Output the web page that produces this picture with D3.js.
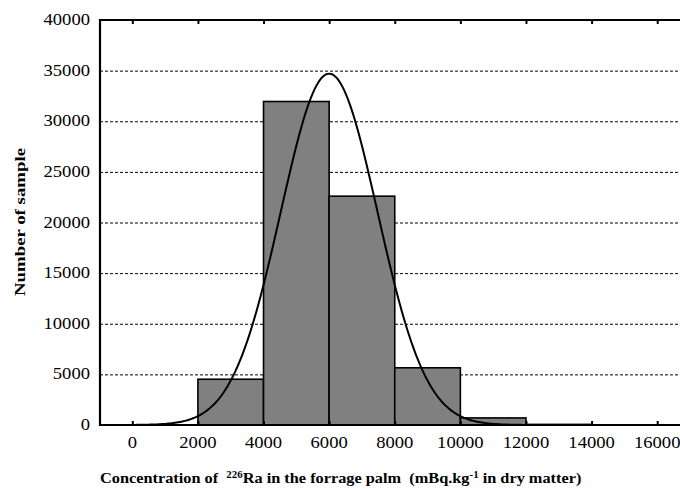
<!DOCTYPE html>
<html><head><meta charset="utf-8">
<script src="https://cdn.jsdelivr.net/npm/d3@7/dist/d3.min.js"></script>
<style>
html,body{margin:0;padding:0;background:#fff;}
svg{display:block;}
text{font-family:"Liberation Serif","Times New Roman",serif;fill:#000;}
</style></head>
<body>
<svg id="chart" width="680" height="489"></svg>
<script>
// Histogram bins (lower edge, upper edge) and counts
const binStarts = [2000, 4000, 6000, 8000, 10000, 12000, 14000];
const binEnds   = [4000, 6000, 8000, 10000, 12000, 14000, 16000];
const counts    = [4520, 31950, 22600, 5650, 700, 60, 10];
// Expected normal fit (parameters)
const fitMean = [6000];
const fitSd = [1475];
const fitPeak = [34700];
// Axis ticks
const xTicks = [0, 2000, 4000, 6000, 8000, 10000, 12000, 14000, 16000];
const yTicks = [0, 5000, 10000, 15000, 20000, 25000, 30000, 35000, 40000];

(function () {
const svg = d3.select("#chart");
const mLeft = 100, mTop = 20, mBottom = 425, W = 680;

const x = d3.scaleLinear().domain([-1000, 17000]).range([99.5, 690]);
const y = d3.scaleLinear().domain([0, 40000]).range([mBottom, mTop]);

// gridlines
svg.append("g").selectAll("line")
  .data(yTicks.filter(d => d > 0 && d < 40000))
  .join("line")
  .attr("x1", mLeft).attr("x2", W)
  .attr("y1", d => y(d) + 0.5).attr("y2", d => y(d) + 0.5)
  .attr("stroke", "#000").attr("stroke-width", 1)
  .attr("stroke-dasharray", "3,2");

// bars
const bins = binStarts.map((s, i) => ({s, e: binEnds[i], c: counts[i]}));
svg.append("g").selectAll("rect")
  .data(bins)
  .join("rect")
  .attr("x", d => x(d.s))
  .attr("width", d => x(d.e) - x(d.s))
  .attr("y", d => y(d.c))
  .attr("height", d => y(0) - y(d.c))
  .attr("fill", "#808080")
  .attr("stroke", "#000")
  .attr("stroke-width", 1.6);

// normal curve
const curvePts = d3.range(-1000, 17001, 50).map(v => [v,
  fitPeak[0] * Math.exp(-((v - fitMean[0]) ** 2) / (2 * fitSd[0] ** 2))]);
svg.append("path")
  .datum(curvePts)
  .attr("d", d3.line().x(d => x(d[0])).y(d => y(d[1])))
  .attr("fill", "none").attr("stroke", "#000").attr("stroke-width", 2);

// axes: bottom ticks inside
const xAxisB = d3.axisBottom(x).tickValues(xTicks).tickSize(-4).tickFormat("");
const gB = svg.append("g").attr("transform", `translate(0,${mBottom})`).call(xAxisB);
gB.select(".domain").remove();
gB.selectAll(".tick line").attr("stroke", "#000").attr("stroke-width", 2);
svg.append("line").attr("x1", mLeft - 1).attr("x2", W).attr("y1", mBottom).attr("y2", mBottom)
  .attr("stroke", "#000").attr("stroke-width", 2.2);

// top border with ticks
const xAxisT = d3.axisTop(x).tickValues(xTicks).tickSize(-4).tickFormat("");
const gT = svg.append("g").attr("transform", `translate(0,${mTop})`).call(xAxisT);
gT.select(".domain").remove();
gT.selectAll(".tick line").attr("stroke", "#000").attr("stroke-width", 2);
svg.append("line").attr("x1", mLeft - 1).attr("x2", W).attr("y1", mTop).attr("y2", mTop)
  .attr("stroke", "#000").attr("stroke-width", 2.2);

// left axis line
svg.append("line").attr("x1", mLeft).attr("x2", mLeft).attr("y1", mTop - 1).attr("y2", mBottom + 1)
  .attr("stroke", "#000").attr("stroke-width", 2.2);

// x tick labels
svg.append("g").selectAll("text")
  .data(xTicks).join("text")
  .attr("x", d => x(d)).attr("y", 448)
  .attr("text-anchor", "middle")
  .attr("font-size", 16)
  .attr("textLength", d => String(d).length * 9.3)
  .attr("lengthAdjust", "spacingAndGlyphs")
  .text(d => d);

// y tick labels
svg.append("g").selectAll("text")
  .data(yTicks).join("text")
  .attr("x", 90).attr("y", d => y(d) + 5)
  .attr("text-anchor", "end")
  .attr("font-size", 16)
  .attr("textLength", d => String(d).length * 9.3)
  .attr("lengthAdjust", "spacingAndGlyphs")
  .text(d => d);

// y axis title
svg.append("text")
  .attr("transform", "translate(25,222) rotate(-90)")
  .attr("text-anchor", "middle")
  .attr("font-size", 14).attr("font-weight", "bold")
  .attr("textLength", 148).attr("lengthAdjust", "spacingAndGlyphs")
  .text("Number of sample");

// x axis title with superscripts
const xt = svg.append("text")
  .attr("x", 0).attr("y", 0)
  .style("white-space", "pre")
  .attr("font-size", 15).attr("font-weight", "bold");
xt.append("tspan").text("Concentration of  ");
xt.append("tspan").attr("font-size", 10).attr("dy", -5).text("226");
xt.append("tspan").attr("dy", 5).text("Ra in the forrage palm  (mBq.kg");
xt.append("tspan").attr("font-size", 10).attr("dy", -5).text("-1");
xt.append("tspan").attr("dy", 5).text(" in dry matter)");
const natural = xt.node().getComputedTextLength();
const targetW = 482;
xt.attr("transform", `translate(100,483) scale(${targetW / natural},1)`);
})();
</script>
</body></html>
